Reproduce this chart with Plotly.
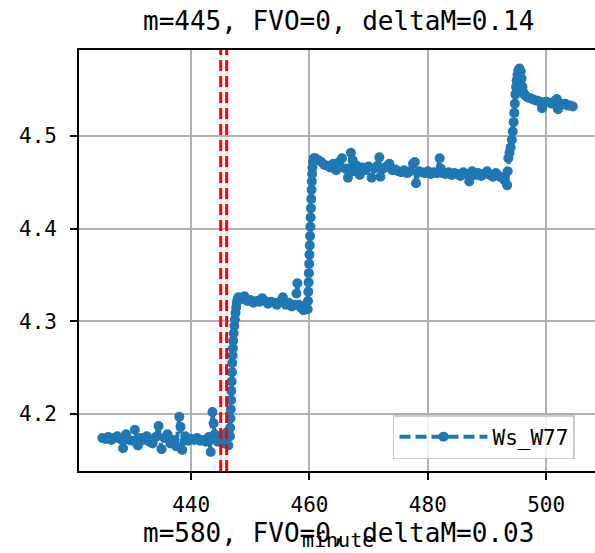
import plotly.graph_objects as go

# ---------------- data ----------------
title_top = "m=445, FVO=0, deltaM=0.14"
title_next = "m=580, FVO=0, deltaM=0.03"
x_label = "minute"
series_name = "Ws_W77"
event_minutes = [445, 446]

x_tick_vals = [440, 460, 480, 500]
y_tick_vals = [4.2, 4.3, 4.4, 4.5]
y_tick_text = ["4.2", "4.3", "4.4", "4.5"]

minute_a = [425.0, 425.5, 426.0, 426.5, 427.0, 427.5, 428.0, 428.5, 429.0, 429.5,
            430.0, 430.5, 431.0, 431.5, 432.0, 432.5, 433.0, 433.5, 434.0, 434.5,
            435.0, 435.5, 436.0, 436.5, 437.0, 437.5, 438.0, 438.2, 438.5, 439.0,
            439.5, 440.0, 440.5, 441.0, 441.5, 442.0, 442.5, 443.0, 443.3, 443.6,
            443.8, 444.0, 444.5, 445.0, 445.5, 446.0, 446.3, 446.5]
ws_a = [4.174, 4.173, 4.175, 4.172, 4.174, 4.176, 4.173, 4.163, 4.178, 4.172,
        4.171, 4.183, 4.166, 4.174, 4.172, 4.176, 4.170, 4.168, 4.175, 4.187,
        4.162, 4.174, 4.178, 4.168, 4.172, 4.165, 4.197, 4.186, 4.161, 4.176,
        4.171, 4.173, 4.172, 4.174, 4.171, 4.172, 4.170, 4.175, 4.159, 4.202,
        4.190, 4.178, 4.170, 4.176, 4.168, 4.180, 4.166, 4.176]

minute_rise1 = [446.55, 446.6, 446.65, 446.7, 446.75, 446.8, 446.85, 446.9, 446.95, 447.0,
                447.05, 447.1, 447.2, 447.3, 447.4, 447.5, 447.6, 447.7, 447.85]
ws_rise1 = [4.176, 4.185, 4.195, 4.205, 4.215, 4.225, 4.235, 4.245, 4.255, 4.263,
            4.271, 4.279, 4.287, 4.295, 4.302, 4.309, 4.315, 4.320, 4.324]

minute_b = [448.0, 448.5, 449.0, 449.5, 450.0, 450.5, 451.0, 451.5, 452.0, 452.5,
            453.0, 453.5, 454.0, 454.5, 455.0, 455.5, 456.0, 456.5, 457.0, 457.5,
            457.8, 457.95, 458.2, 458.5, 459.0, 459.3, 459.6]
ws_b = [4.326, 4.324, 4.327, 4.322, 4.323, 4.320, 4.322, 4.321, 4.325, 4.322,
        4.319, 4.321, 4.320, 4.318, 4.321, 4.326, 4.318, 4.320, 4.316, 4.318,
        4.330, 4.341, 4.318, 4.315, 4.312, 4.317, 4.313]

minute_rise2 = [459.7, 459.75, 459.8, 459.85, 459.9, 459.95, 460.0, 460.05, 460.1, 460.15,
                460.2, 460.25, 460.3, 460.35, 460.4, 460.45, 460.5, 460.6, 460.75]
ws_rise2 = [4.313, 4.322, 4.332, 4.342, 4.352, 4.362, 4.372, 4.382, 4.392, 4.402,
            4.412, 4.422, 4.432, 4.442, 4.451, 4.459, 4.466, 4.472, 4.476]

minute_c = [461.0, 461.5, 462.0, 462.5, 463.0, 463.5, 464.0, 464.5, 465.0, 465.5,
            466.0, 466.5, 467.0, 467.3, 467.5, 468.0, 468.5, 469.0, 469.5, 470.0,
            470.5, 471.0, 471.5, 471.8, 472.0, 472.5, 473.0, 473.5, 474.0, 474.5,
            475.0, 475.5, 476.0, 476.5, 477.0, 477.5, 477.8, 478.0, 478.5, 479.0,
            479.5, 480.0, 480.5, 481.0, 481.5, 482.0, 482.2, 482.5, 483.0, 483.5,
            484.0, 484.5, 485.0, 485.5, 486.0, 486.5, 487.0, 487.5, 488.0, 488.5,
            489.0, 489.5, 490.0, 490.5, 491.0, 491.5, 492.0, 492.5, 493.0]
ws_c = [4.476, 4.474, 4.472, 4.469, 4.468, 4.466, 4.470, 4.463, 4.472, 4.476,
        4.465, 4.455, 4.482, 4.474, 4.462, 4.468, 4.458, 4.466, 4.463, 4.467,
        4.455, 4.465, 4.468, 4.477, 4.456, 4.465, 4.467, 4.470, 4.463, 4.464,
        4.462, 4.461, 4.463, 4.460, 4.462, 4.470, 4.472, 4.449, 4.462, 4.461,
        4.460, 4.462, 4.459, 4.461, 4.460, 4.476, 4.465, 4.460, 4.459, 4.461,
        4.458, 4.460, 4.459, 4.457, 4.461, 4.459, 4.451, 4.462, 4.458, 4.460,
        4.457, 4.459, 4.462, 4.458, 4.456, 4.460, 4.457, 4.455, 4.452]

minute_rise3 = [493.4, 493.5, 493.6, 493.8, 494.0, 494.2, 494.35, 494.5, 494.6, 494.7,
                494.8, 494.9, 495.0, 495.15, 495.3, 495.5, 495.7, 495.85, 496.0, 496.15]
ws_rise3 = [4.447, 4.462, 4.476, 4.482, 4.488, 4.496, 4.505, 4.515, 4.525, 4.535,
            4.545, 4.553, 4.560, 4.566, 4.571, 4.573, 4.570, 4.562, 4.553, 4.547]

minute_d = [496.4, 496.8, 497.2, 497.6, 498.0, 498.5, 499.0, 499.3, 499.5, 500.0,
            500.5, 501.0, 501.5, 501.8, 502.0, 502.3, 502.8, 503.2, 503.6, 504.0, 504.5]
ws_d = [4.544, 4.542, 4.541, 4.540, 4.539, 4.538, 4.537, 4.530, 4.536, 4.537,
        4.536, 4.535, 4.538, 4.540, 4.529, 4.535, 4.534, 4.535, 4.533, 4.533, 4.532]

minutes = minute_a + minute_rise1 + minute_b + minute_rise2 + minute_c + minute_rise3 + minute_d
ws_values = ws_a + ws_rise1 + ws_b + ws_rise2 + ws_c + ws_rise3 + ws_d

# ---------------- figure ----------------
FONT = "DejaVu Sans Mono"
BLUE = "#1f77b4"

fig = go.Figure()
fig.add_trace(go.Scatter(
    x=minutes, y=ws_values, mode="lines+markers", name=series_name,
    line=dict(color=BLUE, width=4, dash="11px,5px"),
    marker=dict(color=BLUE, size=10),
))

for m in event_minutes:
    fig.add_shape(type="line", xref="x", yref="paper", x0=m, x1=m, y0=0, y1=1,
                  line=dict(color="red", width=3, dash="11px,5px"), layer="above")

fig.add_annotation(text=title_top, xref="paper", yref="paper", x=0.502, y=1.068,
                   showarrow=False, font=dict(family=FONT, size=26, color="black"),
                   xanchor="center", yanchor="middle")
fig.add_annotation(text=title_next, xref="paper", yref="paper", x=0.502, y=-0.148,
                   showarrow=False, font=dict(family=FONT, size=26, color="black"),
                   xanchor="center", yanchor="middle")
fig.add_annotation(text=x_label, xref="paper", yref="paper", x=0.502, y=-0.163,
                   showarrow=False, font=dict(family=FONT, size=20, color="black"),
                   xanchor="center", yanchor="middle")

fig.update_layout(
    width=595, height=553,
    margin=dict(l=79, r=0, t=50, b=82, autoexpand=False),
    paper_bgcolor="white", plot_bgcolor="white",
    font=dict(family=FONT, size=21, color="black"),
    showlegend=True,
    legend=dict(x=0.6085, y=0.133, xanchor="left", yanchor="top",
                bgcolor="rgba(255,255,255,0.8)", bordercolor="#cccccc", borderwidth=1.5,
                font=dict(family=FONT, size=21), itemwidth=88),
    xaxis=dict(range=[421.05, 508.25], tickvals=x_tick_vals,
               showgrid=True, gridcolor="#b0b0b0", gridwidth=1.6,
               showline=True, linecolor="black", linewidth=1.6, mirror=True,
               ticks="outside", ticklen=7, tickwidth=1.6, tickcolor="black",
               ticklabelstandoff=7, zeroline=False),
    yaxis=dict(range=[4.1384, 4.5929], tickvals=y_tick_vals, ticktext=y_tick_text,
               showgrid=True, gridcolor="#b0b0b0", gridwidth=1.6,
               showline=True, linecolor="black", linewidth=1.6, mirror=False,
               ticks="outside", ticklen=7, tickwidth=1.6, tickcolor="black",
               ticklabelstandoff=9, zeroline=False),
)

fig.write_html("out.html", config={"displayModeBar": False},
               post_script="document.body.style.margin='0';")
